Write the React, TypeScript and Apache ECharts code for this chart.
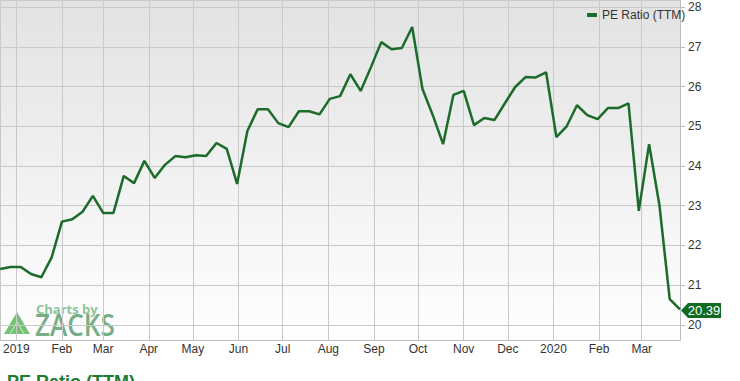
import React, { useEffect, useRef } from "react";
import * as echarts from "echarts";

const dates: string[] = [
  "2018-12-21", "2018-12-28",
  "2019-01-04", "2019-01-11", "2019-01-18", "2019-01-25",
  "2019-02-01", "2019-02-08", "2019-02-15", "2019-02-22",
  "2019-03-01", "2019-03-08", "2019-03-15", "2019-03-22", "2019-03-29",
  "2019-04-05", "2019-04-12", "2019-04-19", "2019-04-26",
  "2019-05-03", "2019-05-10", "2019-05-17", "2019-05-24", "2019-05-31",
  "2019-06-07", "2019-06-14", "2019-06-21", "2019-06-28",
  "2019-07-05", "2019-07-12", "2019-07-19", "2019-07-26",
  "2019-08-02", "2019-08-09", "2019-08-16", "2019-08-23", "2019-08-30",
  "2019-09-06", "2019-09-13", "2019-09-20", "2019-09-27",
  "2019-10-04", "2019-10-11", "2019-10-18", "2019-10-25",
  "2019-11-01", "2019-11-08", "2019-11-15", "2019-11-22", "2019-11-29",
  "2019-12-06", "2019-12-13", "2019-12-20", "2019-12-27",
  "2020-01-03", "2020-01-10", "2020-01-17", "2020-01-24", "2020-01-31",
  "2020-02-07", "2020-02-14", "2020-02-21", "2020-02-28",
  "2020-03-06", "2020-03-13", "2020-03-20", "2020-03-27",
];

const peRatio: number[] = [
  21.41, 21.46,
  21.46, 21.28, 21.2, 21.7,
  22.6, 22.66, 22.85, 23.25,
  22.82, 22.82, 23.75, 23.57, 24.13,
  23.7, 24.03, 24.25, 24.22,
  24.27, 24.25, 24.58, 24.43, 23.55,
  24.88, 25.43, 25.43, 25.08,
  24.98, 25.38, 25.38, 25.3,
  25.69, 25.76, 26.31, 25.89, 26.49,
  27.12, 26.94, 26.97, 27.5,
  25.94, 25.28, 24.55, 25.79,
  25.89, 25.03, 25.21, 25.16, 25.58,
  25.99, 26.24, 26.23, 26.36,
  24.73, 25.0, 25.53, 25.28, 25.18,
  25.46, 25.46, 25.58, 22.87,
  24.55, 23.02, 20.65, 20.39,
];

const monthNames: string[] = ["Jan", "Feb", "Mar", "Apr", "May", "Jun", "Jul", "Aug", "Sep", "Oct", "Nov", "Dec"];
const seriesName = "PE Ratio (TTM)";
const lastLabel = "20.39";

export default function App() {
  const ref = useRef<HTMLDivElement>(null);
  useEffect(() => {
    if (!ref.current) return;
    const chart = echarts.init(ref.current, null, { renderer: "svg" });
    const lastIdx = dates.length - 1;
    const font = "'Liberation Sans', Arial, sans-serif";
    chart.setOption({
      animation: false,
      textStyle: { fontFamily: font },
      grid: {
        left: 0,
        right: 60,
        top: 0,
        bottom: 41,
        show: true,
        borderWidth: 0,
        backgroundColor: {
          type: "linear",
          x: 0, y: 0, x2: 0, y2: 1,
          colorStops: [
            { offset: 0, color: "#e2e2e2" },
            { offset: 1, color: "#ffffff" },
          ],
        },
      },
      legend: {
        left: 582,
        top: 4,
        itemWidth: 10,
        itemHeight: 4,
        icon: "rect",
        textStyle: { color: "#333", fontSize: 12, fontFamily: font },
        data: [seriesName],
      },
      xAxis: {
        type: "time",
        min: dates[0],
        max: dates[lastIdx],
        splitNumber: 15,
        minInterval: 28 * 86400000,
        maxInterval: 31 * 86400000,
        axisLine: { show: true, lineStyle: { color: "#bdbdbd", width: 1 } },
        axisTick: { show: false },
        splitLine: { show: true, lineStyle: { color: "#c9c9c9", width: 1 } },
        axisLabel: {
          color: "#333",
          fontSize: 12,
          fontFamily: font,
          margin: 3,
          hideOverlap: false,
          showMinLabel: false,
          showMaxLabel: false,
          formatter: (v: number) => {
            const d = new Date(v);
            return d.getMonth() === 0 ? String(d.getFullYear()) : monthNames[d.getMonth()];
          },
        },
      },
      yAxis: {
        type: "value",
        position: "right",
        min: 19.62,
        max: 28.18,
        splitNumber: 8,
        axisLine: { show: true, lineStyle: { color: "#bdbdbd", width: 1 } },
        axisTick: { show: true, length: 5, lineStyle: { color: "#bdbdbd" } },
        splitLine: { show: true, lineStyle: { color: "#c9c9c9", width: 1 } },
        axisLabel: {
          color: "#333",
          fontSize: 12,
          fontFamily: font,
          margin: 8,
          showMinLabel: false,
          showMaxLabel: false,
        },
      },
      series: [
        {
          name: seriesName,
          type: "line",
          data: dates.map((d, i) => [d, peRatio[i]]),
          showSymbol: false,
          symbol: "none",
          itemStyle: { color: "#1b6b2a" },
          lineStyle: { color: "#1b6b2a", width: 2.5 },
          markPoint: {
            silent: true,
            data: [
              {
                coord: [dates[lastIdx], peRatio[lastIdx]],
                symbol: "path://M0,7 L7,0 L40,0 L40,14 L7,14 Z",
                symbolSize: [40, 15],
                symbolOffset: [21, 1],
                itemStyle: { color: "#0f6b1f" },
                label: {
                  show: true,
                  position: "inside",
                  offset: [3, 0],
                  formatter: lastLabel,
                  color: "#ffffff",
                  fontSize: 13,
                  fontFamily: font,
                },
              },
            ],
          },
        },
      ],
      graphic: [
        {
          type: "polygon",
          shape: { points: [[17, 312], [4, 334], [30, 334]] },
          style: { fill: "#5cb85c", opacity: 0.85 },
          silent: true,
        },
        {
          type: "polyline",
          shape: { points: [[10, 334], [17, 322], [24, 334]] },
          style: { stroke: "#b9e0b9", lineWidth: 1.2, fill: "none" },
          silent: true,
        },
        {
          type: "text",
          x: 36,
          y: 302,
          style: {
            text: "Charts by",
            fill: "#8cc59a",
            font: "bold 13px 'Open Sans', 'Liberation Sans', sans-serif",
            textVerticalAlign: "top",
          },
          silent: true,
        },
        {
          type: "text",
          x: 35,
          y: 309,
          scaleX: 0.87,
          style: {
            text: "ZACKS",
            fill: "#64a276",
            font: "600 30px 'Open Sans', 'Liberation Sans', sans-serif",
            textVerticalAlign: "top",
            opacity: 0.9,
          },
          silent: true,
        },
        {
          type: "text",
          x: 7,
          y: 373,
          style: {
            text: "PE Ratio (TTM)",
            fill: "#1e7b32",
            font: "bold 18px 'Liberation Sans', Arial, sans-serif",
            textVerticalAlign: "top",
          },
          silent: true,
        },
      ],
    });
    return () => chart.dispose();
  }, []);
  return (
    <div
      ref={ref}
      style={{ position: "absolute", left: 0, top: 0, width: 740, height: 381 }}
    />
  );
}
